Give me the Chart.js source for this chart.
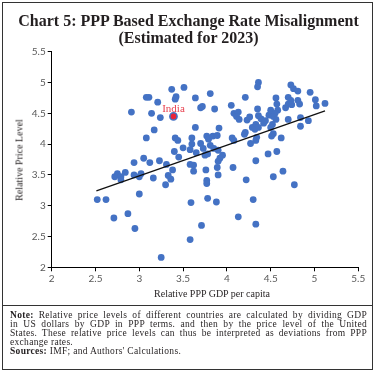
<!DOCTYPE html>
<html><head><meta charset="utf-8">
<script src="https://cdn.jsdelivr.net/npm/chart.js@4.4.0/dist/chart.umd.min.js"></script>
<style>
html,body{margin:0;padding:0;background:#fff;}
#wrap{position:relative;width:377px;height:380px;overflow:hidden;font-family:'Liberation Serif','Times New Roman',serif;color:#231f20;}
#frame{position:absolute;left:2px;top:2px;width:371px;height:368px;border:1.5px solid #333;box-sizing:border-box;}
#divider{position:absolute;left:2px;top:305px;width:371px;height:0;border-top:1.2px solid #333;}
#title{position:absolute;left:0;top:13px;width:377px;text-align:center;font-weight:bold;font-size:16px;line-height:16.7px;color:#231f20;}
#ytitle{position:absolute;left:19px;top:160px;font-size:10px;font-weight:normal;white-space:nowrap;transform:translate(-50%,-50%) rotate(-90deg);}
#xtitle{position:absolute;left:212px;top:293px;font-size:10px;white-space:nowrap;transform:translate(-50%,-50%);}
#note{position:absolute;left:10px;top:310.5px;width:357px;font-size:9.5px;line-height:9.1px;letter-spacing:0.3px;}
#note .j{text-align:justify;text-align-last:justify;white-space:nowrap;}
#note .j{white-space:normal;}
canvas{position:absolute;left:0;top:0;}
</style></head>
<body>
<div id="wrap">
<canvas id="c" width="377" height="380"></canvas>
<div id="title">Chart 5: PPP Based Exchange Rate Misalignment<br>(Estimated for 2023)</div>
<div id="ytitle">Relative Price Level</div>
<div id="xtitle">Relative PPP GDP per capita</div>
<div id="divider"></div>
<div id="note">
<div class="j"><b>Note:</b> Relative price levels of different countries are calculated by dividing GDP</div>
<div class="j">in US dollars by GDP in PPP terms. and then by the price level of the United</div>
<div class="j">States. These relative price levels can thus be interpreted as deviations from PPP</div>
<div>exchange rates.</div>
<div><b>Sources:</b> IMF; and Authors' Calculations.</div>
</div>
<div id="frame"></div>
</div>
<script>
// Relative PPP GDP per capita (x) and relative price level (y) of countries
const relGdp = [
3.37,3.51,3.08,3.11,3.42,3.41,3.64,3.21,2.91,3.14,3.24,
3.64,3.17,3.08,3.41,3.44,3.60,3.60,3.50,3.40,3.58,3.65,3.45,3.05,2.94,3.12,3.23,3.31,3.58,3.62,3.38,3.62,2.84,2.75,2.72,2.79,
2.79,
2.94,3.00,3.02,3.16,3.33,3.36,3.30,3.00,2.52,2.62,3.59,2.87,2.71,2.95,3.58,3.25,3.70,3.73,
3.70,3.72,3.81,3.86,4.05,4.08,4.13,4.11,4.14,3.91,3.77,3.79,3.84,3.89,4.06,4.08,3.81,3.85,3.90,3.75,
3.78,3.95,3.92,3.90,3.76,3.89,4.07,3.90,3.77,3.77,3.78,3.88,4.13,3.71,
4.36,4.35,4.73,4.76,4.81,4.95,4.21,4.56,4.70,4.73,4.81,4.83,5.01,5.12,5.02,4.35,4.57,4.67,4.70,4.74,
4.50,4.58,4.48,4.51,4.55,4.53,4.56,4.23,4.26,4.36,4.39,4.44,4.42,4.33,4.29,4.32,4.36,4.52,4.50,4.70,
4.84,4.93,4.84,4.21,4.20,4.53,4.51,4.62,4.34,4.33,4.27,4.47,4.57,4.33,4.64,4.53,4.22,4.77,4.30,4.33
];
const relPrice = [
4.89,4.92,4.76,4.76,4.77,4.73,4.75,4.68,4.52,4.50,4.43,
4.27,4.23,4.10,4.10,4.06,4.10,4.00,3.94,3.88,3.91,3.86,3.79,3.77,3.70,3.70,3.73,3.67,3.67,3.66,3.58,3.56,3.54,3.52,3.47,3.47,
3.42,
3.50,3.47,3.52,3.45,3.49,3.43,3.34,3.19,3.10,3.10,3.05,2.87,2.80,2.63,2.45,2.16,4.01,3.93,
4.59,4.61,4.82,4.57,4.63,4.50,4.52,4.45,4.40,4.26,4.13,4.08,4.13,4.14,4.10,4.06,3.98,3.93,3.90,3.82,
3.84,3.82,3.77,3.72,3.58,3.62,3.62,3.50,3.41,3.36,3.12,3.06,2.82,2.68,
5.00,4.93,4.96,4.90,4.86,4.84,4.76,4.75,4.76,4.71,4.71,4.65,4.72,4.66,4.62,4.57,4.65,4.59,4.65,4.64,
4.55,4.55,4.47,4.51,4.50,4.45,4.40,4.39,4.44,4.46,4.41,4.38,4.34,4.32,4.27,4.24,4.27,4.32,4.27,4.40,
4.43,4.38,4.29,4.19,4.16,4.17,4.13,4.10,4.11,4.06,4.01,3.84,3.88,3.73,3.56,3.47,3.42,3.34,3.10,2.70
];
// India
const indiaLabel = 'India';
const indiaX = [3.39];
const indiaY = [4.45];
// Linear trend line end points
const trendX = [2.51, 5.12];
const trendY = [3.24, 4.54];
// Axis ticks
const xTickValues = [2, 2.5, 3, 3.5, 4, 4.5, 5, 5.5];
const yTickValues = [2, 2.5, 3, 3.5, 4, 4.5, 5, 5.5];

const toPts = (xs, ys) => xs.map((x, i) => ({x: x, y: ys[i]}));

const indiaLabelPlugin = {
  id: 'indiaLabel',
  afterDatasetsDraw(chart) {
    const pt = chart.getDatasetMeta(0).data[0];
    const ctx = chart.ctx;
    ctx.save();
    ctx.font = '11px "Liberation Serif", serif';
    ctx.fillStyle = '#e8414f';
    ctx.textAlign = 'center';
    ctx.textBaseline = 'middle';
    ctx.fillText(indiaLabel, pt.x, pt.y - 7.5);
    ctx.restore();
  }
};

const axisCommon = (ticksArr) => ({
  type: 'linear',
  min: ticksArr[0],
  max: ticksArr[ticksArr.length - 1],
  afterBuildTicks: (s) => { s.ticks = ticksArr.map(v => ({value: v})); },
  grid: {drawOnChartArea: false, drawTicks: true, tickLength: 4, tickColor: '#000', lineWidth: 1},
  border: {display: true, color: '#000', width: 1},
  ticks: {
    color: '#595959',
    font: {family: 'Lato, "Liberation Sans", sans-serif', size: 10},
    callback: (v) => String(v)
  }
});

const xAxis = axisCommon(xTickValues);
xAxis.ticks.padding = 1;
xAxis.ticks.maxRotation = 0;
xAxis.afterFit = (s) => { s.height = 20; };
const yAxis = axisCommon(yTickValues);
yAxis.ticks.padding = 2;
yAxis.afterFit = (s) => { s.width = 43.7; };

new Chart(document.getElementById('c'), {
  type: 'scatter',
  data: {
    datasets: [
      {label: 'India', data: toPts(indiaX, indiaY), pointRadius: 3.6, pointBackgroundColor: '#e8243a', pointBorderColor: '#4472c4', pointBorderWidth: 1.6},
      {label: 'Trend', data: toPts(trendX, trendY), showLine: true, borderColor: '#111', borderWidth: 1.3, pointRadius: 0, fill: false},
      {label: 'Countries', data: toPts(relGdp, relPrice), pointRadius: 3.4, pointBackgroundColor: '#4472c4', pointBorderWidth: 0}
    ]
  },
  options: {
    responsive: false,
    devicePixelRatio: 1,
    animation: false,
    events: [],
    layout: {padding: {left: 8, right: 18.7, top: 51.7, bottom: 92.7}},
    plugins: {legend: {display: false}, tooltip: {enabled: false}, title: {display: false}},
    scales: {x: xAxis, y: yAxis}
  },
  plugins: [indiaLabelPlugin]
});
</script>
</body></html>
